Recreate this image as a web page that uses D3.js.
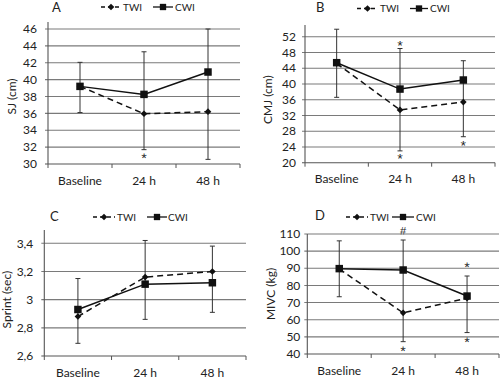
<!DOCTYPE html>
<html><head><meta charset="utf-8">
<script src="https://cdn.jsdelivr.net/npm/d3@7"></script>
<style>
body{margin:0;background:#fff;}
svg{display:block;}
text{font-family:Lato,"Open Sans",sans-serif;fill:#222;}
</style></head>
<body>
<svg id="chart" width="500" height="380"></svg>
<script>
const categories = ["Baseline", "24 h", "48 h"];
const seriesNames = ["TWI", "CWI"];

// Panel A - SJ (cm)
const sjTWI = [39.2, 35.95, 36.2];
const sjCWI = [39.2, 38.25, 40.9];
const sjErrLow = [36.1, 31.7, 30.55];
const sjErrHigh = [42.05, 43.3, 46.0];
const sjTicks = [30, 32, 34, 36, 38, 40, 42, 44, 46];
const sjMarks = [{i: 1, v: 31.15, t: "*"}];

// Panel B - CMJ (cm)
const cmjTWI = [45.2, 33.4, 35.4];
const cmjCWI = [45.4, 38.7, 41.0];
const cmjErrLow = [36.6, 23.0, 26.6];
const cmjErrHigh = [53.9, 49.0, 45.9];
const cmjTicks = [20, 24, 28, 32, 36, 40, 44, 48, 52];
const cmjMarks = [{i: 1, v: 50.7, t: "*"}, {i: 1, v: 22.0, t: "*"}, {i: 2, v: 25.3, t: "*"}];

// Panel C - Sprint (sec)
const sprintTWI = [2.88, 3.16, 3.20];
const sprintCWI = [2.93, 3.11, 3.12];
const sprintErrLow = [2.69, 2.86, 2.91];
const sprintErrHigh = [3.15, 3.42, 3.38];
const sprintTicks = [2.6, 2.8, 3.0, 3.2, 3.4];
const sprintTickLabels = ["2,6", "2,8", "3", "3,2", "3,4"];
const sprintMarks = [];

// Panel D - MIVC (kg)
const mivcTWI = [89.6, 64.0, 72.6];
const mivcCWI = [89.8, 89.0, 73.8];
const mivcErrLow = [73.4, 47.2, 52.5];
const mivcErrHigh = [106.0, 106.5, 85.5];
const mivcTicks = [40, 50, 60, 70, 80, 90, 100, 110];
const mivcMarks = [{i: 1, v: 111.9, t: "#"}, {i: 1, v: 43.9, t: "*"}, {i: 2, v: 92.9, t: "*"}, {i: 2, v: 49.2, t: "*"}];

const svg = d3.select("#chart");

const panels = [
  {letter: "A", ylabel: "SJ (cm)", twi: sjTWI, cwi: sjCWI, lo: sjErrLow, hi: sjErrHigh, ticks: sjTicks, labels: null, marks: sjMarks,
   x0: 48, x1: 240, yb: 164, yt: 29, axTop: 22, lblOff: 11, yTitleX: 12, letterX: 52, letterY: 12, legY: 7,
   leg: {d0: 101, d1: 121, tw: 123, c0: 153, c1: 173, cw: 175}},
  {letter: "B", ylabel: "CMJ (cm)", twi: cmjTWI, cwi: cmjCWI, lo: cmjErrLow, hi: cmjErrHigh, ticks: cmjTicks, labels: null, marks: cmjMarks,
   x0: 305, x1: 495, yb: 162.7, yt: 36.7, axTop: 25, lblOff: 9, yTitleX: 268, letterX: 316, letterY: 12, legY: 8.5,
   leg: {d0: 357, d1: 378, tw: 380, c0: 410, c1: 428, cw: 430}},
  {letter: "C", ylabel: "Sprint (sec)", twi: sprintTWI, cwi: sprintCWI, lo: sprintErrLow, hi: sprintErrHigh, ticks: sprintTicks, labels: sprintTickLabels, marks: sprintMarks,
   x0: 44.3, x1: 246, yb: 356, yt: 243.3, axTop: 230, lblOff: 11, yTitleX: 7, letterX: 50, letterY: 221, legY: 217,
   leg: {d0: 93, d1: 115, tw: 117, c0: 147, c1: 167, cw: 168}},
  {letter: "D", ylabel: "MIVC (kg)", twi: mivcTWI, cwi: mivcCWI, lo: mivcErrLow, hi: mivcErrHigh, ticks: mivcTicks, labels: null, marks: mivcMarks,
   x0: 307.3, x1: 499, yb: 354, yt: 234, axTop: 234, lblOff: 7, yTitleX: 271, letterX: 315, letterY: 220, legY: 217,
   leg: {d0: 346, d1: 368, tw: 370, c0: 392, c1: 414, cw: 416}}
];

const diamond = d3.symbol().type(d3.symbolDiamond2 || d3.symbolDiamond).size(28);
const square = d3.symbol().type(d3.symbolSquare).size(56);

panels.forEach(p => {
  const g = svg.append("g");
  const tmin = d3.min(p.ticks), tmax = d3.max(p.ticks);
  const y = d3.scaleLinear().domain([tmin, tmax]).range([p.yb, p.yt]);
  const x = d3.scaleBand().domain(categories).range([p.x0, p.x1]);
  const cx = c => x(c) + x.bandwidth() / 2;

  // gridlines
  g.selectAll(".grid").data(p.ticks.slice(1)).join("line")
    .attr("x1", p.x0 - 3).attr("x2", p.x1)
    .attr("y1", d => y(d)).attr("y2", d => y(d))
    .attr("stroke", "#7a7a7a").attr("stroke-width", 1.1);

  // x axis
  const xa = d3.axisBottom(x).tickSize(0).tickPadding(12);
  const xg = g.append("g").attr("transform", `translate(0,${p.yb})`).call(xa);
  xg.select(".domain").remove();
  xg.selectAll("text").attr("font-size", 12).attr("fill", "#222").style("font-family", "Lato, sans-serif");
  g.append("line").attr("x1", p.x0 - 3).attr("x2", p.x1).attr("y1", p.yb).attr("y2", p.yb)
    .attr("stroke", "#555").attr("stroke-width", 1.1);
  const bounds = categories.map(c => x(c)).concat([p.x1]);
  g.selectAll(".xt").data(bounds).join("line")
    .attr("x1", d => d).attr("x2", d => d).attr("y1", p.yb).attr("y2", p.yb + 4)
    .attr("stroke", "#555");

  // y axis
  g.append("line").attr("x1", p.x0).attr("x2", p.x0).attr("y1", p.yb).attr("y2", p.axTop)
    .attr("stroke", "#555").attr("stroke-width", 1.1);
  g.selectAll(".yl").data(p.ticks).join("text")
    .attr("x", p.x0 - p.lblOff).attr("y", d => y(d)).attr("dy", "0.35em")
    .attr("text-anchor", "end").attr("font-size", 12)
    .text((d, i) => p.labels ? p.labels[i] : d);

  // y title
  const ym = (p.yb + p.yt) / 2;
  g.append("text").attr("transform", `translate(${p.yTitleX},${ym}) rotate(-90)`)
    .attr("text-anchor", "middle").attr("dy", "0.35em").attr("font-size", 12).text(p.ylabel);

  // panel letter
  g.append("text").attr("x", p.letterX).attr("y", p.letterY).attr("font-size", 13).text(p.letter);

  // legend
  const L = p.leg;
  g.append("line").attr("x1", L.d0).attr("x2", L.d1).attr("y1", p.legY).attr("y2", p.legY)
    .attr("stroke", "#111").attr("stroke-width", 1.3).attr("stroke-dasharray", "4,3");
  g.append("path").attr("d", diamond).attr("transform", `translate(${(L.d0 + L.d1) / 2},${p.legY})`).attr("fill", "#111");
  g.append("text").attr("x", L.tw).attr("y", p.legY).attr("dy", "0.35em").attr("font-size", 10).text(seriesNames[0]);
  g.append("line").attr("x1", L.c0).attr("x2", L.c1).attr("y1", p.legY).attr("y2", p.legY)
    .attr("stroke", "#111").attr("stroke-width", 1.3);
  g.append("path").attr("d", d3.symbol().type(d3.symbolSquare).size(40)).attr("transform", `translate(${(L.c0 + L.c1) / 2},${p.legY})`).attr("fill", "#111");
  g.append("text").attr("x", L.cw).attr("y", p.legY).attr("dy", "0.35em").attr("font-size", 10).text(seriesNames[1]);

  // error bars
  categories.forEach((c, i) => {
    const xx = cx(c);
    g.append("line").attr("x1", xx).attr("x2", xx).attr("y1", y(p.lo[i])).attr("y2", y(p.hi[i]))
      .attr("stroke", "#333").attr("stroke-width", 1);
    [p.lo[i], p.hi[i]].forEach(v => {
      g.append("line").attr("x1", xx - 2.5).attr("x2", xx + 2.5).attr("y1", y(v)).attr("y2", y(v))
        .attr("stroke", "#333").attr("stroke-width", 1);
    });
  });

  // lines
  const line = d3.line().x((d, i) => cx(categories[i])).y(d => y(d));
  g.append("path").attr("d", line(p.twi)).attr("fill", "none").attr("stroke", "#111")
    .attr("stroke-width", 1.5).attr("stroke-dasharray", "6,4");
  g.append("path").attr("d", line(p.cwi)).attr("fill", "none").attr("stroke", "#111")
    .attr("stroke-width", 1.5);

  // markers
  p.twi.forEach((v, i) => {
    g.append("path").attr("d", diamond).attr("transform", `translate(${cx(categories[i])},${y(v)})`).attr("fill", "#111");
  });
  p.cwi.forEach((v, i) => {
    g.append("path").attr("d", square).attr("transform", `translate(${cx(categories[i])},${y(v)})`).attr("fill", "#111");
  });

  // significance marks
  p.marks.forEach(m => {
    const mx = cx(categories[m.i]), my = y(m.v);
    const star = m.t === "*";
    g.append("text").attr("x", mx).attr("y", my)
      .attr("transform", `rotate(0.5,${mx},${my})`)
      .attr("dy", star ? "0.62em" : "0.35em")
      .attr("text-anchor", "middle").attr("font-size", star ? 14 : 11)
      .style("font-family", "'Liberation Sans', Arial, sans-serif")
      .style("fill", "#222").text(m.t);
  });
});
</script>
</body></html>
